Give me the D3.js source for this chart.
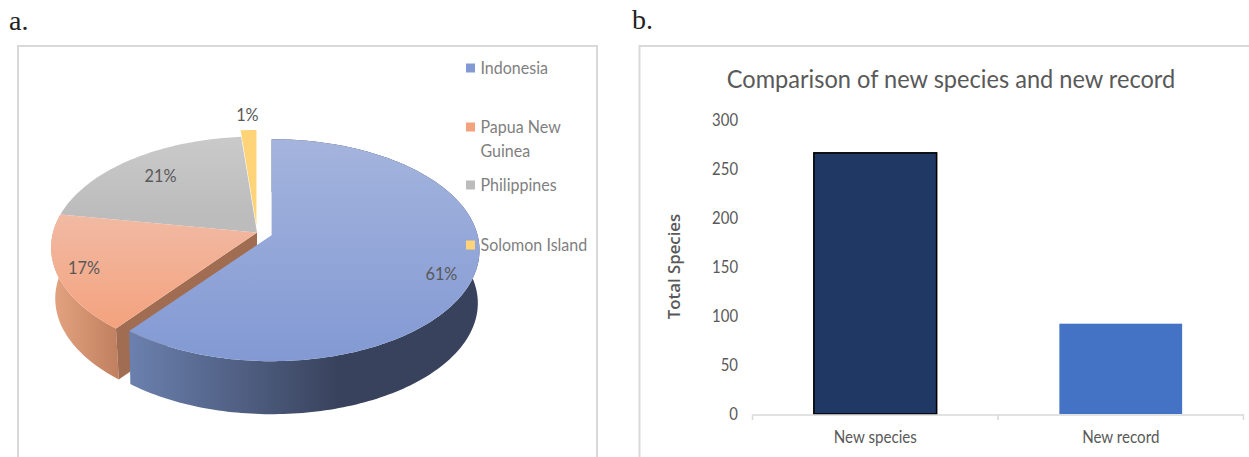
<!DOCTYPE html>
<html><head><meta charset="utf-8">
<script src="https://cdn.jsdelivr.net/npm/d3@7"></script>
<style>html,body{margin:0;padding:0;background:#fff;overflow:hidden}svg{display:block}</style>
</head><body><svg id="c" width="1249" height="457"></svg>
<script>
// --- data ---
const pieCategories = ["Indonesia","Papua New Guinea","Philippines","Solomon Island"];
const piePercent = [60.6,17.1,20.9,1.4];
const barCategories = ["New species","New record"];
const barValues = [266,92];
const barTicks = [0,50,100,150,200,250,300];
const chartTitle = "Comparison of new species and new record";
const yTitle = "Total Species";
// --- styles ---
const explode = [0.075,0,0,0.06];
const sliceRx = [206,204,204,204];
const sliceDepth = [53,51,51,51];
const sliceShrink = [0.992,0.98,0.98,0.98];
const labelRadius = [0.84,0.87,0.75,1.17];
const labelNudge = [[0,8],[0,0],[0,-1],[0,-1]];
const topStops = [["#a4b4dd","#8299d3"],["#f1baa3","#f4a27e"],["#cacaca","#bcbcbc"],["#ffd986","#ffd479"]];
const sideStops = [["#6b80ae","#38425c"],["#e2a280","#c07f5e"]];
const sideEnd = [0.6,1];
const legendY = [[68],[127,151],[185],[245]];
const legendText = [["Indonesia"],["Papua New","Guinea"],["Philippines"],["Solomon Island"]];

const svg = d3.select("#c");
const defs = svg.append("defs");
const sans = "Lato, 'Open Sans', sans-serif";
const grey = "#595959";
// taller, narrower lettering like the reference: large font squeezed horizontally
function squeeze(sel,k){sel.each(function(){const n=this;n.setAttribute("lengthAdjust","spacingAndGlyphs");n.setAttribute("textLength",n.getComputedTextLength()*k);});}

// frames
const frame = "#d9d9d9";
svg.append("path").attr("d","M18,457V46H597V457").attr("fill","none").attr("stroke",frame).attr("stroke-width",2);
svg.append("path").attr("d","M639.5,457V46H1249").attr("fill","none").attr("stroke",frame).attr("stroke-width",2);
svg.append("text").text("a.").attr("x",9).attr("y",30).attr("font-family","'Liberation Serif',serif").attr("font-size",28).attr("fill","#222");
svg.append("text").text("b.").attr("x",632).attr("y",29).attr("font-family","'Liberation Serif',serif").attr("font-size",28).attr("fill","#222");

// --- pie a: d3.pie angles seen through a perspective projection of the disc ---
const cx=257, cy=232.5, ry=109, persp=-0.135;
const arcs = d3.pie().sort(null).value(d=>d)(piePercent);
function proj(i,angle,r,h,off){
  const u=Math.sin(angle)*r, v=-Math.cos(angle)*r, w=1+persp*v;
  const s=h?sliceShrink[i]:1;
  return [cx+off[0]+sliceRx[i]*u/w*s, cy+off[1]+ry*v/w+(h?sliceDepth[i]:0)];
}
const line=d3.line();
function sample(a0,a1){const n=Math.max(4,Math.ceil(Math.abs(a1-a0)/0.02));return d3.range(n+1).map(i=>a0+(a1-a0)*i/n);}
const parts = arcs.map((d,i)=>{
  const mid=(d.startAngle+d.endAngle)/2;
  return {i,d,mid,off:[explode[i]*sliceRx[i]*Math.sin(mid),-explode[i]*ry*Math.cos(mid)]};
});
parts.forEach(p=>{
  const pts=sample(p.d.startAngle,p.d.endAngle);
  p.top=pts.map(a=>proj(p.i,a,1,0,p.off));
  p.bot=pts.map(a=>proj(p.i,a,1,1,p.off));
  p.apexTop=proj(p.i,0,0,0,p.off); p.apexBot=proj(p.i,0,0,1,p.off);
  const t=defs.append("linearGradient").attr("id","top"+p.i).attr("gradientUnits","userSpaceOnUse")
    .attr("x1",0).attr("x2",0).attr("y1",d3.min(p.top,q=>q[1])).attr("y2",d3.max(p.top,q=>q[1]));
  t.append("stop").attr("offset",0).attr("stop-color",topStops[p.i][0]);
  t.append("stop").attr("offset",1).attr("stop-color",topStops[p.i][1]);
  if(sideStops[p.i]){
    const x0=d3.min(p.bot,q=>q[0]), x1=d3.max(p.bot,q=>q[0]);
    const s=defs.append("linearGradient").attr("id","side"+p.i).attr("gradientUnits","userSpaceOnUse")
      .attr("x1",x0).attr("x2",x1).attr("y1",0).attr("y2",0);
    s.append("stop").attr("offset",0).attr("stop-color",sideStops[p.i][0]);
    s.append("stop").attr("offset",sideEnd[p.i]).attr("stop-color",sideStops[p.i][1]);
  }
});
// paint order: back slices first (their walls are out of sight), exploded front slice last
[2,3,1,0].forEach(i=>{
  const p=parts[i];
  const g=svg.append("g");
  if(sideStops[i]) g.append("path").attr("d",line(p.top.concat(p.bot.slice().reverse()))+"Z").attr("fill",`url(#side${i})`);
  if(i===1){ // cut face toward the exploded slice
    const a=p.top[0], b=p.bot[0];
    g.append("path").attr("d",line([p.apexTop,a,b,p.apexBot])+"Z").attr("fill","#a06c52");
  }
  g.append("path").attr("d",line([p.apexTop].concat(p.top))+"Z").attr("fill",`url(#top${i})`);
});
// data labels
parts.forEach(p=>{
  const q=proj(p.i,p.mid,labelRadius[p.i],0,p.off);
  svg.append("text").text(Math.round(piePercent[p.i])+"%").attr("x",q[0]+labelNudge[p.i][0]).attr("y",q[1]+6+labelNudge[p.i][1])
    .attr("text-anchor","middle").attr("font-family",sans).attr("font-size",17.5).attr("fill",grey).call(squeeze,0.93);
});
// legend
pieCategories.forEach((c,i)=>{
  svg.append("rect").attr("x",466).attr("y",legendY[i][0]-4.5).attr("width",9).attr("height",9).attr("fill",topStops[i][1]);
  legendText[i].forEach((t,k)=>{
    svg.append("text").text(t).attr("x",480.5).attr("y",legendY[i][k]+6)
      .attr("font-family",sans).attr("font-size",18).attr("fill","#7f7f7f").call(squeeze,0.89);
  });
});

// --- bar b ---
const x=d3.scaleBand().domain(barCategories).range([752.5,1243.5]).paddingInner(0.5).paddingOuter(0.25);
const y=d3.scaleLinear().domain([0,300]).range([414,119.5]);
const barFill=["#1f3864","#4472c4"], barStroke=["#000","none"];
svg.selectAll(".bar").data(barValues).join("rect").attr("class","bar")
  .attr("x",(d,i)=>x(barCategories[i])).attr("width",x.bandwidth())
  .attr("y",d=>y(d)).attr("height",d=>y(0)-y(d))
  .attr("fill",(d,i)=>barFill[i]).attr("stroke",(d,i)=>barStroke[i]).attr("stroke-width",1.6);
const yAxis=svg.append("g").attr("transform","translate(738,0)").call(d3.axisLeft(y).tickValues(barTicks).tickSize(0).tickPadding(0));
yAxis.select(".domain").remove();
yAxis.selectAll("text").attr("font-family",sans).attr("font-size",17.5).attr("fill",grey).call(squeeze,0.85);
const xAxis=svg.append("g").attr("transform","translate(0,414.5)")
  .call(d3.axisBottom(x).tickSize(0).tickPadding(16));
xAxis.select(".domain").attr("stroke",frame).attr("stroke-width",1.5);
xAxis.selectAll("text").attr("font-family",sans).attr("font-size",17).attr("fill",grey).call(squeeze,0.89);
const tickX=[x.range()[0],(x.range()[0]+x.range()[1])/2,x.range()[1]];
svg.selectAll(".xt").data(tickX).join("line").attr("class","xt").attr("x1",d=>d).attr("x2",d=>d)
  .attr("y1",414.5).attr("y2",420).attr("stroke",frame).attr("stroke-width",1.5);
svg.append("text").text(chartTitle).attr("x",951).attr("y",88).attr("text-anchor","middle")
  .attr("font-family",sans).attr("font-size",25.5).attr("fill",grey).call(squeeze,0.925);
svg.append("text").text(yTitle).attr("transform","translate(680,266.5) rotate(-90)").attr("text-anchor","middle")
  .attr("font-family","'Open Sans',sans-serif").attr("font-size",16).attr("font-weight",600).attr("fill",grey).call(squeeze,1.05);
</script></body></html>
